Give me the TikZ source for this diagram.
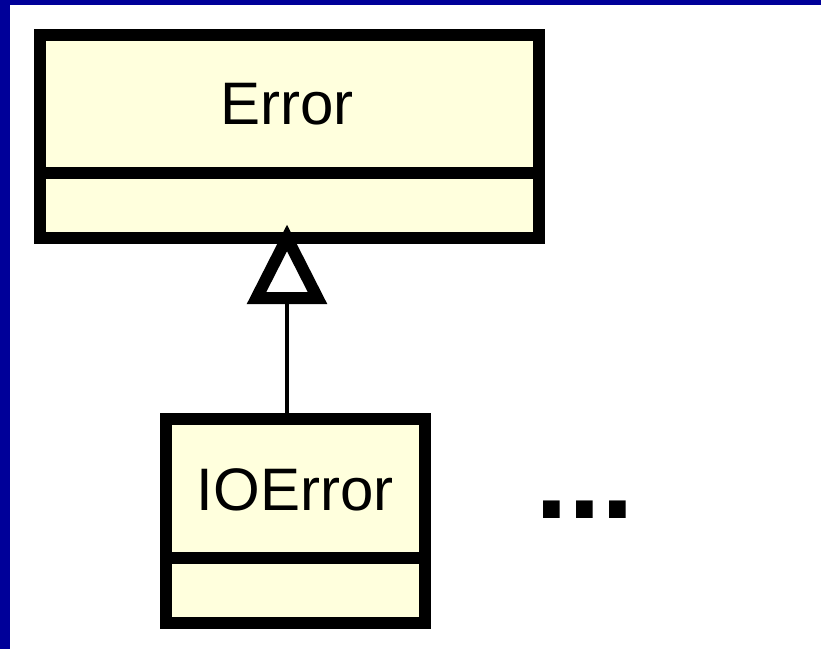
\documentclass[tikz,border=0pt]{standalone}
\usepackage{fontspec}
\setmainfont{Liberation Sans}
\definecolor{frameblue}{HTML}{000099}
\definecolor{classfill}{HTML}{FFFFDD}
\tikzset{
  classbox/.style={draw=black, line width=12pt, fill=classfill, rectangle,
    inner sep=0pt, outer sep=0pt, line join=miter},
  classname/.style={inner sep=0pt, font=\fontsize{60}{72}\selectfont},
  compline/.style={draw=black, line width=12pt},
  inherit/.style={draw=black, line width=4.5pt},
  hollowtip/.style={draw=black, fill=white, line width=12pt, line join=miter}
}
\begin{document}
\begin{tikzpicture}[x=1pt, y=-1pt]
  % canvas and blue frame strips
  \fill[white] (0,0) rectangle (821,649);
  \useasboundingbox (0,0) rectangle (821,649);
  \fill[frameblue] (0,0) rectangle (10,649);
  \fill[frameblue] (0,0) rectangle (821,5);

  % class boxes
  \node[classbox, minimum width=499pt, minimum height=203pt] (error) at (289.5,136.5) {};
  \node[classbox, minimum width=259.5pt, minimum height=204pt] (ioerror) at (295.25,521) {};

  % compartment separators
  \draw[compline] (error.west |- 0,173) -- (error.east |- 0,173);
  \draw[compline] (ioerror.west |- 0,557.5) -- (ioerror.east |- 0,557.5);

  % class names
  \node[classname] (errorname) at (287,104) {Error};
  \node[classname] (ioerrorname) at (295,490) {IOError};

  % generalisation: IOError -> Error
  \coordinate (tipend) at (287,238);
  \draw[inherit] (287,0 |- ioerror.north) -- (287,298);
  \draw[hollowtip] (287,0 |- error.south) -- ++(-30.5,60) -- ++(61,0) -- cycle;

  % ellipsis for further subclasses
  \node[inner sep=0pt, font=\bfseries\fontsize{118}{120}\selectfont] (more) at (585,510) {...};
\end{tikzpicture}
\end{document}
